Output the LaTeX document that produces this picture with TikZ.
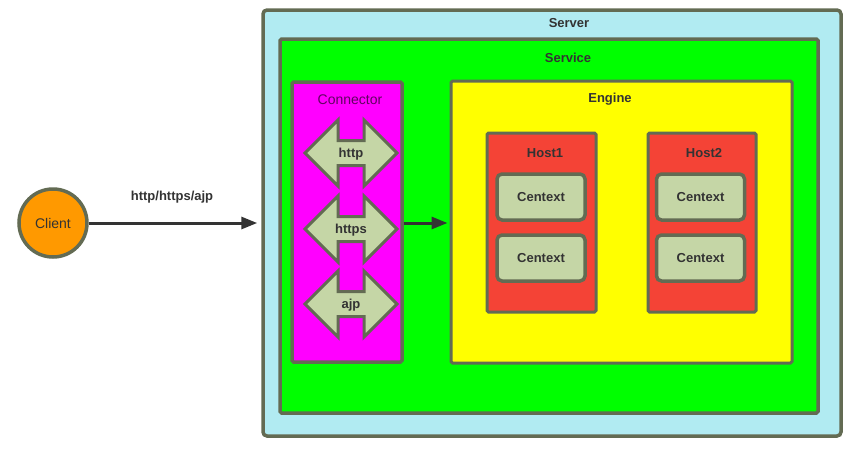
\documentclass[tikz,border=0pt]{standalone}
\usepackage{fontspec}
\setmainfont{Liberation Sans}
\usetikzlibrary{shapes.arrows,arrows.meta}
\definecolor{edgegray}{RGB}{99,107,83}
\definecolor{txtgray}{RGB}{51,51,51}
\definecolor{servercyan}{RGB}{177,235,242}
\definecolor{servicegreen}{RGB}{0,255,0}
\definecolor{connmagenta}{RGB}{255,0,255}
\definecolor{engineyellow}{RGB}{255,255,0}
\definecolor{ctxgreen}{RGB}{197,214,166}
\definecolor{hostred}{RGB}{244,67,54}
\definecolor{clientorange}{RGB}{255,153,0}
\definecolor{conntxt}{RGB}{95,5,95}
\tikzset{
  lbl/.style={font=\fontsize{13}{15}\selectfont\bfseries, text=txtgray, inner sep=0pt},
  plainlbl/.style={font=\fontsize{14}{16}\selectfont, text=txtgray, inner sep=0pt},
  box/.style={draw=edgegray, line width=3.5pt, rounded corners=1.5pt, inner sep=0pt},
  ctxbox/.style={box, fill=ctxgreen, minimum width=88pt, minimum height=46pt, rounded corners=5pt, lbl},
  proto/.style={double arrow, draw=edgegray, fill=ctxgreen, line width=3pt,
    double arrow head extend=20.5pt, minimum height=92pt, text height=15.5pt,
    text depth=6.5pt, inner ysep=0pt, inner xsep=0pt, lbl},
  link/.style={draw=txtgray, line width=3pt, -{Triangle[length=16pt,width=12pt]}},
}
\begin{document}
\begin{tikzpicture}[x=1pt,y=-1pt]
  \useasboundingbox (0,0) rectangle (861,450);

  % containers
  \node[box, fill=servercyan, rounded corners=4pt, minimum width=578pt, minimum height=426pt] (server) at (552,223) {};
  \node[lbl] (serverlbl) at (569,23) {Server};
  \node[box, fill=servicegreen, minimum width=538pt, minimum height=374pt] (service) at (549,226) {};
  \node[lbl] (servicelbl) at (568,58) {Service};

  % connector
  \node[box, fill=connmagenta, minimum width=110pt, minimum height=280pt] (connector) at (347,222) {};
  \node[plainlbl, text=conntxt] (connlbl) at (350,100) {Connector};
  \node[proto] (http) at (351,153) {http};
  \node[proto] (https) at (351,229) {https};
  \node[proto] (ajp) at (351,304) {ajp};

  % engine
  \node[box, fill=engineyellow, line width=3pt, minimum width=341pt, minimum height=282pt] (engine) at (621.5,222) {};
  \node[lbl] (enginelbl) at (610,99) {Engine};

  % hosts
  \node[box, fill=hostred, line width=3pt, minimum width=109pt, minimum height=179pt] (host1) at (541.5,222.5) {};
  \node[lbl] (host1lbl) at (545,153) {Host1};
  \node[ctxbox] (ctx1a) at (541,197) {Centext};
  \node[ctxbox] (ctx1b) at (541,258) {Centext};

  \node[box, fill=hostred, line width=3pt, minimum width=108pt, minimum height=179pt] (host2) at (702,222.5) {};
  \node[lbl] (host2lbl) at (704,153) {Host2};
  \node[ctxbox] (ctx2a) at (700.5,197) {Centext};
  \node[ctxbox] (ctx2b) at (700.5,258) {Centext};

  % client
  \node[circle, draw=edgegray, line width=3.5pt, fill=clientorange, minimum size=68pt,
        plainlbl] (client) at (53,223) {Client};

  % links
  \draw[link, shorten >=4pt] (client.east) -- (client.east -| server.west);
  \node[lbl] (linklbl) at (172,197) {http/https/ajp};
  \draw[link, shorten >=2pt] (connector.east |- 0,223) -- (engine.west |- 0,223);
\end{tikzpicture}
\end{document}
